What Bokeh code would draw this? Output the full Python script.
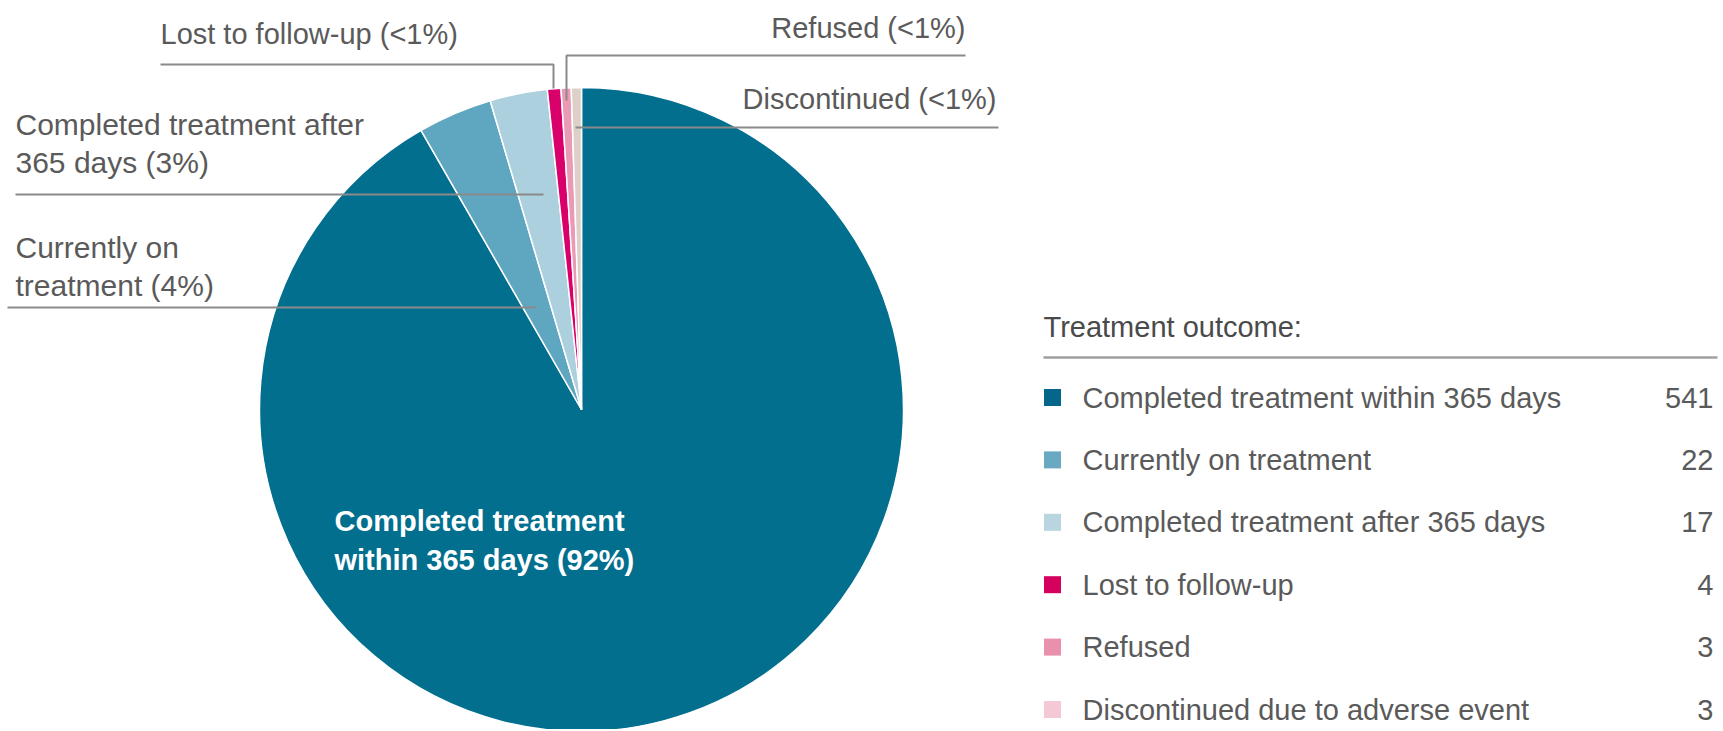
import math
from bokeh.plotting import figure
from bokeh.models import Range1d, ColumnDataSource
from bokeh.core.properties import value
from bokeh.embed import file_html
from bokeh.resources import INLINE

# ---------------- data ----------------
outcomes = [
    "Completed treatment within 365 days",
    "Currently on treatment",
    "Completed treatment after 365 days",
    "Lost to follow-up",
    "Refused",
    "Discontinued due to adverse event",
]
counts = [541, 22, 17, 4, 3, 3]
pie_label_lines = [
    ["Completed treatment", "within 365 days (92%)"],
    ["Currently on", "treatment (4%)"],
    ["Completed treatment after", "365 days (3%)"],
    ["Lost to follow-up (<1%)"],
    ["Refused (<1%)"],
    ["Discontinued (<1%)"],
]
legend_title = "Treatment outcome:"

# ---------------- styles ----------------
pie_colors = ["#036f8f", "#5fa7c0", "#acd0dd", "#d9006b", "#ea9ab4", "#ddd0c9"]
legend_colors = ["#06658a", "#6aa9c2", "#b9d5e0", "#d6005f", "#e890ac", "#f5c8d6"]
FONT = "Liberation Sans"
TXT = "#5a5a5a"
LINE = "#8a8a8a"

W, H = 1720, 729
IMG_H = 731


def fy(py):
    return IMG_H - py


p = figure(width=W, height=H, output_backend="svg", toolbar_location=None,
           x_range=Range1d(0, W), y_range=Range1d(IMG_H - H, IMG_H),
           min_border=0)
p.axis.visible = False
p.grid.visible = False
p.outline_line_color = None
p.background_fill_color = "white"

# ---------------- pie ----------------
cx, cy, R = 581, fy(409), 322
total = sum(counts)
starts, ends = [], []
cum = 0
for c in counts:
    before = cum
    cum += c
    starts.append(math.pi / 2 - cum / total * 2 * math.pi)
    ends.append(math.pi / 2 - before / total * 2 * math.pi)
src = ColumnDataSource(dict(start=starts, end=ends, color=pie_colors))
p.wedge(x=cx, y=cy, radius=R, start_angle="start", end_angle="end",
        fill_color="color", line_color="white", line_width=1.5, source=src)

# ---------------- leader lines ----------------
leaders_x = [
    [15, 543],               # completed after
    [7, 536],                # currently on
    [160, 553, 553],         # lost
    [965, 566, 566],         # refused
    [998, 575],              # discontinued
]
leaders_y = [
    [fy(194), fy(194)],
    [fy(307), fy(307)],
    [fy(64), fy(64), fy(88)],
    [fy(55), fy(55), fy(100)],
    [fy(127), fy(127)],
]
p.multi_line(xs=leaders_x, ys=leaders_y, line_color=LINE, line_width=2)

# ---------------- pie labels ----------------
def label(x, y, t, align="left", color=TXT, bold=False, size="29px"):
    p.text(x=[x], y=[fy(y)], text=[t], text_font=value(FONT), text_font_size=size,
           text_color=color, text_align=align, text_baseline="middle",
           text_font_style="bold" if bold else "normal")

# inside label (92%)
label(334, 520, pie_label_lines[0][0], color="white", bold=True)
label(334, 559, pie_label_lines[0][1], color="white", bold=True)
# currently on
label(15, 247, pie_label_lines[1][0], size="30px")
label(15, 285, pie_label_lines[1][1], size="30px")
# completed after
label(15, 124, pie_label_lines[2][0], size="30px")
label(15, 162, pie_label_lines[2][1], size="30px")
# lost
label(160, 33, pie_label_lines[3][0])
# refused
label(965, 27, pie_label_lines[4][0], align="right")
# discontinued
label(996, 98, pie_label_lines[5][0], align="right")

# ---------------- legend ----------------
label(1043, 326, legend_title, color="#4a4a4a")
p.line(x=[1043, 1717], y=[fy(357), fy(357)], line_color="#a0a0a0", line_width=2.5)

row_y = [fy(397 + 62.4 * i) for i in range(len(outcomes))]
p.scatter(x=[1052] * len(outcomes), y=row_y, marker="square", size=17,
          fill_color=legend_colors, line_color=None)
p.text(x=[1082] * len(outcomes), y=row_y, text=outcomes, text_font=value(FONT),
       text_font_size="29px", text_color=TXT, text_align="left", text_baseline="middle")
p.text(x=[1713] * len(outcomes), y=row_y, text=[str(c) for c in counts],
       text_font=value(FONT), text_font_size="29px", text_color=TXT,
       text_align="right", text_baseline="middle")

open("out.html", "w").write(file_html(p, INLINE))
